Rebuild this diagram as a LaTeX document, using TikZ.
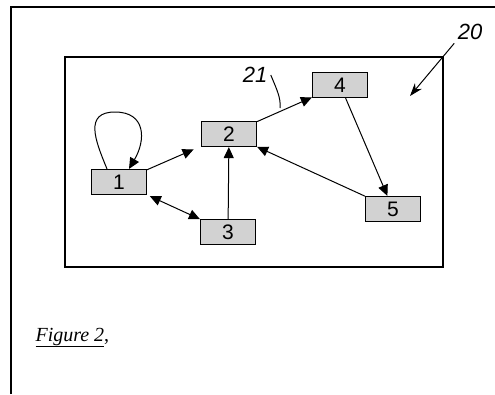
\documentclass[tikz,border=0pt]{standalone}
\usepackage{fontspec}
\setmainfont{Liberation Serif}
\newfontfamily\cellfont{Liberation Sans}
\usetikzlibrary{positioning, arrows, arrows.meta}
\tikzset{
x=1pt, y=-1pt, % picture measured in pixels of the page
>={Triangle[length=11pt, width=10pt]}, % filled arrow heads
every cell/.style={draw, line width=1.2pt, fill=gray!35, minimum width=55pt, minimum height=25pt, inner sep=0pt, font=\cellfont\fontsize{21}{22}\selectfont}, % sets the properties for each box
hand/.style={font=\cellfont\itshape\fontsize{22}{23}\selectfont}, % handwritten reference numbers
}

\begin{document}
\begin{tikzpicture}
    \useasboundingbox (0,0) rectangle (495,394);
    % sheet and window
    \draw[line width=1.4pt] (11,394) -- (11,7) -- (495,7);
    \draw[line width=1.4pt] (65,57) rectangle (443,267);
    \node[every cell] (n1) at (119,182) {1};
    \node[every cell] (n2) at (229,134) {2};
    \node[every cell] (n3) at (228,232) {3};
    \node[every cell] (n4) at (340,85) {4};
    \node[every cell] (n5) at (393,209) {5};
    \draw[line width=1pt]
    (n1) edge[->, shorten >=8pt] (n2)
    (n1) edge[<->, shorten <=3pt] (n3)
    (n3) edge[->] (n2)
    (n2) edge[->] (n4)
    (n4) edge[->] (n5)
    (n5) edge[->] (n2);
    \draw[line width=1pt, ->] ([xshift=-12pt]n1.north) .. controls (95,140) and (84,112) .. (115,112)
        .. controls (146,112) and (146,140) .. ([xshift=10pt]n1.north);
    % reference numbers
    \node[hand] (l21) at (255,75) {21};
    \coordinate (c21) at (280,108);
    \draw[line width=1pt] (l21.east) .. controls (277,90) and (281,98) .. (c21);
    \node[hand] (l20) at (470,32) {20};
    \coordinate (c20) at (410,96);
    \draw[line width=1pt, -{Stealth[length=13pt, width=9pt]}] (l20.south west) -- (c20);
    \node[anchor=base west, font=\fontsize{20}{21}\selectfont] (cap) at (32,341) {\underline{\textit{Figure 2}},};
\end{tikzpicture}
\end{document}
